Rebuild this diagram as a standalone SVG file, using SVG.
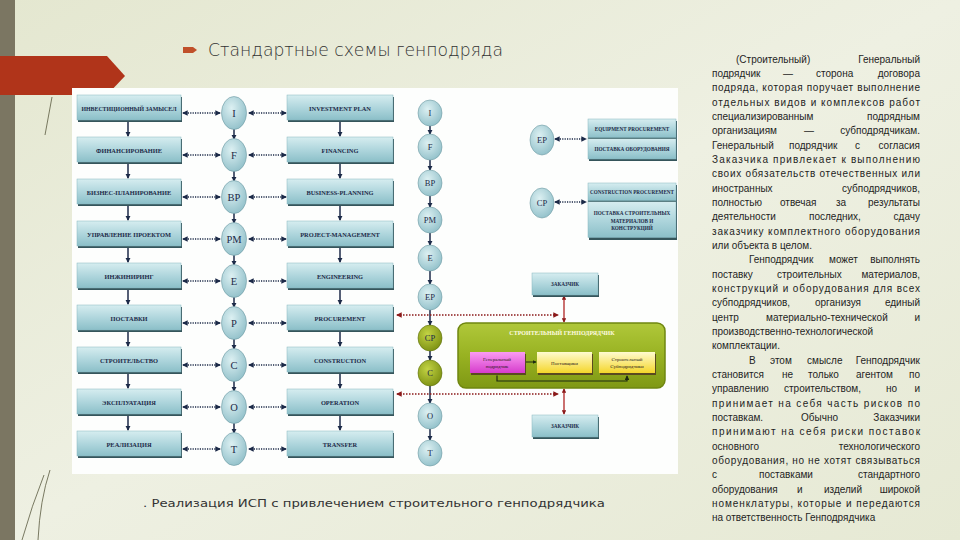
<svg xmlns="http://www.w3.org/2000/svg" width="960" height="540" viewBox="0 0 960 540">
<defs>
<linearGradient id="bg" x1="0" y1="0" x2="1" y2="1"><stop offset="0" stop-color="#e4e7d0"/><stop offset="0.5" stop-color="#eef0e2"/><stop offset="1" stop-color="#e6e9d4"/></linearGradient>
<linearGradient id="gBox" x1="0" y1="0" x2="0" y2="1"><stop offset="0" stop-color="#d6edf0"/><stop offset="0.55" stop-color="#acd4db"/><stop offset="1" stop-color="#8bbfc8"/></linearGradient>
<radialGradient id="gCirc" cx="0.4" cy="0.35" r="0.75"><stop offset="0" stop-color="#dcf0f2"/><stop offset="1" stop-color="#8bbcc6"/></radialGradient>
<radialGradient id="gCircG" cx="0.4" cy="0.35" r="0.75"><stop offset="0" stop-color="#c3d444"/><stop offset="1" stop-color="#768a0e"/></radialGradient>
<linearGradient id="gGreen" x1="0" y1="0" x2="0" y2="1"><stop offset="0" stop-color="#b0c83a"/><stop offset="0.5" stop-color="#98b222"/><stop offset="1" stop-color="#7f9814"/></linearGradient>
<linearGradient id="gMag" x1="0" y1="0" x2="0" y2="1"><stop offset="0" stop-color="#fa9cf2"/><stop offset="1" stop-color="#d63ccc"/></linearGradient>
<linearGradient id="gYel" x1="0" y1="0" x2="0" y2="1"><stop offset="0" stop-color="#fffbd0"/><stop offset="1" stop-color="#f4d62a"/></linearGradient>
<marker id="ah" viewBox="0 0 6 6" refX="5" refY="3" markerWidth="3.5" markerHeight="3.5" orient="auto-start-reverse"><path d="M0,0 L6,3 L0,6 z" fill="#1c2a48"/></marker>
<marker id="ahr" viewBox="0 0 6 6" refX="5" refY="3" markerWidth="3.5" markerHeight="3.5" orient="auto-start-reverse"><path d="M0,0 L6,3 L0,6 z" fill="#8b1a1a"/></marker>
<marker id="ahg" viewBox="0 0 6 6" refX="5" refY="3" markerWidth="4" markerHeight="4" orient="auto-start-reverse"><path d="M0,0 L6,3 L0,6 z" fill="#1d2a10"/></marker>
</defs>
<style>
.sh{fill:#35555b}
.box{fill:url(#gBox);stroke:#86b6bf;stroke-width:0.5}
.circ{fill:url(#gCirc);stroke:#6f9aa3;stroke-width:0.6}
.circg{fill:url(#gCircG);stroke:#5d6e0a;stroke-width:0.6}
.bt{font-family:"Liberation Serif",serif;font-weight:bold;font-size:6.4px;fill:#1c2a48;text-anchor:middle}
.bs{font-family:"Liberation Serif",serif;font-weight:bold;font-size:5.2px;fill:#1c2a48;text-anchor:middle}
.ct{font-family:"Liberation Serif",serif;font-size:10.5px;fill:#1c2a48;text-anchor:middle}
.ct3{font-family:"Liberation Serif",serif;font-size:8.5px;fill:#1c2a48;text-anchor:middle}
.ar{stroke:#1c2a48;stroke-width:1.5;fill:none;marker-end:url(#ah)}
.dt{stroke:#1c2a48;stroke-width:1.6;fill:none;stroke-dasharray:1.2 1.2;marker-start:url(#ah);marker-end:url(#ah)}
.rd{stroke:#8b1a1a;stroke-width:1.6;fill:none;stroke-dasharray:1.5 1.5;marker-start:url(#ahr);marker-end:url(#ahr)}
.rv{stroke:#b02424;stroke-width:1.3;fill:none;marker-start:url(#ahr);marker-end:url(#ahr)}
.p{font-family:"Liberation Sans","Noto Sans",sans-serif;font-size:10px;fill:#1e1e1e}
.pe{font-family:"Liberation Sans","Noto Sans",sans-serif;font-size:10px;fill:#1e1e1e;text-anchor:end}
.gt{font-family:"Liberation Serif",serif;font-size:5px;fill:#2a1a20;text-anchor:middle}
</style>
<rect x="0" y="0" width="960" height="540" fill="url(#bg)"/>
<rect x="0" y="0" width="15" height="540" fill="#7b7662"/>
<polygon points="0,56 107,56 125,76 107,95 0,95" fill="#b0341a"/>
<path d="M52,97 L45,135" stroke="#5a5a40" stroke-width="0.8" fill="none"/>
<path d="M44,475 Q32,505 22,540 M50,470 Q40,500 38,540" stroke="#5a5a40" stroke-width="0.8" fill="none"/>
<polygon points="183,47 193,47 197,50 193,53 183,53" fill="#c0502a"/>
<text x="208" y="56" font-family="DejaVu Sans,sans-serif" font-weight="200" font-size="17" fill="#333" textLength="295" lengthAdjust="spacingAndGlyphs">Стандартные схемы генподряда</text>
<rect x="72" y="88" width="606" height="386" fill="#fdfefd"/>

<g id="connectors">
<path class="ar" d="M128,121 V136"/><path class="ar" d="M128,163 V178"/><path class="ar" d="M128,205 V220"/><path class="ar" d="M128,247 V262"/><path class="ar" d="M128,289 V304"/><path class="ar" d="M128,331 V346"/><path class="ar" d="M128,373 V388"/><path class="ar" d="M128,415 V430"/>
<path class="ar" d="M340,121 V136"/><path class="ar" d="M340,163 V178"/><path class="ar" d="M340,205 V220"/><path class="ar" d="M340,247 V262"/><path class="ar" d="M340,289 V304"/><path class="ar" d="M340,331 V346"/><path class="ar" d="M340,373 V388"/><path class="ar" d="M340,415 V430"/>
<path class="ar" d="M234,129 V139"/><path class="ar" d="M234,171 V181"/><path class="ar" d="M234,213 V223"/><path class="ar" d="M234,255 V265"/><path class="ar" d="M234,297 V307"/><path class="ar" d="M234,339 V349"/><path class="ar" d="M234,381 V391"/><path class="ar" d="M234,423 V433"/>
<path class="ar" d="M430,126 V134"/><path class="ar" d="M430,160 V170"/><path class="ar" d="M430,196 V207"/><path class="ar" d="M430,233 V245"/><path class="ar" d="M430,271 V284"/><path class="ar" d="M430,310 V325"/><path class="ar" d="M430,351 V360"/><path class="ar" d="M430,386 V403"/><path class="ar" d="M430,429 V440"/>
<path class="dt" d="M183,113 H220"/><path class="dt" d="M183,155 H220"/><path class="dt" d="M183,197 H220"/><path class="dt" d="M183,239 H220"/><path class="dt" d="M183,281 H220"/><path class="dt" d="M183,323 H220"/><path class="dt" d="M183,365 H220"/><path class="dt" d="M183,407 H220"/><path class="dt" d="M183,449 H220"/>
<path class="dt" d="M249,113 H286"/><path class="dt" d="M249,155 H286"/><path class="dt" d="M249,197 H286"/><path class="dt" d="M249,239 H286"/><path class="dt" d="M249,281 H286"/><path class="dt" d="M249,323 H286"/><path class="dt" d="M249,365 H286"/><path class="dt" d="M249,407 H286"/><path class="dt" d="M249,449 H286"/>
<path class="dt" d="M555,139 H586"/><path class="dt" d="M555,202 H586"/>
<path class="rd" d="M397,315 H558"/><path class="rd" d="M397,394 H558"/>
<path class="rv" d="M564,296 V322"/><path class="rv" d="M564,389 V414"/>
</g>

<g id="n-l1"><rect class="sh" x="78" y="97" width="104" height="25"/><rect class="box" x="77" y="95" width="104" height="25"/><text class="bt" x="129" y="111" textLength="95" lengthAdjust="spacingAndGlyphs">ИНВЕСТИЦИОННЫЙ ЗАМЫСЕЛ</text></g>
<g id="n-l2"><rect class="sh" x="78" y="139" width="104" height="25"/><rect class="box" x="77" y="137" width="104" height="25"/><text class="bt" x="129" y="153">ФИНАНСИРОВАНИЕ</text></g>
<g id="n-l3"><rect class="sh" x="78" y="181" width="104" height="25"/><rect class="box" x="77" y="179" width="104" height="25"/><text class="bt" x="129" y="195">БИЗНЕС-ПЛАНИРОВАНИЕ</text></g>
<g id="n-l4"><rect class="sh" x="78" y="223" width="104" height="25"/><rect class="box" x="77" y="221" width="104" height="25"/><text class="bt" x="129" y="237">УПРАВЛЕНИЕ ПРОЕКТОМ</text></g>
<g id="n-l5"><rect class="sh" x="78" y="265" width="104" height="25"/><rect class="box" x="77" y="263" width="104" height="25"/><text class="bt" x="129" y="279">ИНЖИНИРИНГ</text></g>
<g id="n-l6"><rect class="sh" x="78" y="307" width="104" height="25"/><rect class="box" x="77" y="305" width="104" height="25"/><text class="bt" x="129" y="321">ПОСТАВКИ</text></g>
<g id="n-l7"><rect class="sh" x="78" y="349" width="104" height="25"/><rect class="box" x="77" y="347" width="104" height="25"/><text class="bt" x="129" y="363">СТРОИТЕЛЬСТВО</text></g>
<g id="n-l8"><rect class="sh" x="78" y="391" width="104" height="25"/><rect class="box" x="77" y="389" width="104" height="25"/><text class="bt" x="129" y="405">ЭКСПЛУАТАЦИЯ</text></g>
<g id="n-l9"><rect class="sh" x="78" y="433" width="104" height="25"/><rect class="box" x="77" y="431" width="104" height="25"/><text class="bt" x="129" y="447">РЕАЛИЗАЦИЯ</text></g>

<g id="n-c1"><ellipse class="circ" cx="234" cy="113" rx="12.5" ry="16.5"/><text class="ct" x="234" y="117">I</text></g>
<g id="n-c2"><ellipse class="circ" cx="234" cy="155" rx="12.5" ry="16.5"/><text class="ct" x="234" y="159">F</text></g>
<g id="n-c3"><ellipse class="circ" cx="234" cy="197" rx="12.5" ry="16.5"/><text class="ct" x="234" y="201">BP</text></g>
<g id="n-c4"><ellipse class="circ" cx="234" cy="239" rx="12.5" ry="16.5"/><text class="ct" x="234" y="243">PM</text></g>
<g id="n-c5"><ellipse class="circ" cx="234" cy="281" rx="12.5" ry="16.5"/><text class="ct" x="234" y="285">E</text></g>
<g id="n-c6"><ellipse class="circ" cx="234" cy="323" rx="12.5" ry="16.5"/><text class="ct" x="234" y="327">P</text></g>
<g id="n-c7"><ellipse class="circ" cx="234" cy="365" rx="12.5" ry="16.5"/><text class="ct" x="234" y="369">C</text></g>
<g id="n-c8"><ellipse class="circ" cx="234" cy="407" rx="12.5" ry="16.5"/><text class="ct" x="234" y="411">O</text></g>
<g id="n-c9"><ellipse class="circ" cx="234" cy="449" rx="12.5" ry="16.5"/><text class="ct" x="234" y="453">T</text></g>

<g id="n-r1"><rect class="sh" x="288" y="97" width="106" height="25"/><rect class="box" x="287" y="95" width="106" height="25"/><text class="bt" x="340" y="111">INVESTMENT PLAN</text></g>
<g id="n-r2"><rect class="sh" x="288" y="139" width="106" height="25"/><rect class="box" x="287" y="137" width="106" height="25"/><text class="bt" x="340" y="153">FINANCING</text></g>
<g id="n-r3"><rect class="sh" x="288" y="181" width="106" height="25"/><rect class="box" x="287" y="179" width="106" height="25"/><text class="bt" x="340" y="195">BUSINESS-PLANNING</text></g>
<g id="n-r4"><rect class="sh" x="288" y="223" width="106" height="25"/><rect class="box" x="287" y="221" width="106" height="25"/><text class="bt" x="340" y="237">PROJECT-MANAGEMENT</text></g>
<g id="n-r5"><rect class="sh" x="288" y="265" width="106" height="25"/><rect class="box" x="287" y="263" width="106" height="25"/><text class="bt" x="340" y="279">ENGINEERING</text></g>
<g id="n-r6"><rect class="sh" x="288" y="307" width="106" height="25"/><rect class="box" x="287" y="305" width="106" height="25"/><text class="bt" x="340" y="321">PROCUREMENT</text></g>
<g id="n-r7"><rect class="sh" x="288" y="349" width="106" height="25"/><rect class="box" x="287" y="347" width="106" height="25"/><text class="bt" x="340" y="363">CONSTRUCTION</text></g>
<g id="n-r8"><rect class="sh" x="288" y="391" width="106" height="25"/><rect class="box" x="287" y="389" width="106" height="25"/><text class="bt" x="340" y="405">OPERATION</text></g>
<g id="n-r9"><rect class="sh" x="288" y="433" width="106" height="25"/><rect class="box" x="287" y="431" width="106" height="25"/><text class="bt" x="340" y="447">TRANSFER</text></g>

<g id="n-s1"><ellipse class="circ" cx="430" cy="113" rx="12" ry="13"/><text class="ct3" x="430" y="116">I</text></g>
<g id="n-s2"><ellipse class="circ" cx="430" cy="147" rx="12" ry="13"/><text class="ct3" x="430" y="150">F</text></g>
<g id="n-s3"><ellipse class="circ" cx="430" cy="183" rx="12" ry="13"/><text class="ct3" x="430" y="186">BP</text></g>
<g id="n-s4"><ellipse class="circ" cx="430" cy="220" rx="12" ry="13"/><text class="ct3" x="430" y="223">PM</text></g>
<g id="n-s5"><ellipse class="circ" cx="430" cy="258" rx="12" ry="13"/><text class="ct3" x="430" y="261">E</text></g>
<g id="n-s6"><ellipse class="circ" cx="430" cy="297" rx="12" ry="13"/><text class="ct3" x="430" y="300">EP</text></g>
<g id="n-s7"><ellipse class="circg" cx="430" cy="338" rx="12" ry="13"/><text class="ct3" x="430" y="341">CP</text></g>
<g id="n-s8"><ellipse class="circg" cx="430" cy="373" rx="12" ry="13"/><text class="ct3" x="430" y="376">C</text></g>
<g id="n-s9"><ellipse class="circ" cx="430" cy="416" rx="12" ry="13"/><text class="ct3" x="430" y="419">O</text></g>
<g id="n-s10"><ellipse class="circ" cx="430" cy="453" rx="12" ry="13"/><text class="ct3" x="430" y="456">T</text></g>

<g id="n-ep"><ellipse class="circ" cx="542" cy="140" rx="12" ry="15"/><text class="ct3" x="542" y="143">EP</text></g>
<g id="n-cp"><ellipse class="circ" cx="542" cy="203" rx="12" ry="15"/><text class="ct3" x="542" y="206">CP</text></g>
<g id="n-epbox"><rect class="sh" x="589" y="121" width="88" height="40"/><rect class="box" x="588" y="119" width="88" height="19"/><rect class="box" x="588" y="138.5" width="88" height="20.5"/><line x1="588" y1="138.2" x2="676" y2="138.2" stroke="#35555b" stroke-width="0.8"/><text class="bs" x="632" y="131">EQUIPMENT PROCUREMENT</text><text class="bs" x="632" y="151">ПОСТАВКА ОБОРУДОВАНИЯ</text></g>
<g id="n-cpbox"><rect class="sh" x="589" y="185" width="88" height="55"/><rect class="box" x="588" y="183" width="88" height="18"/><rect class="box" x="588" y="201.5" width="88" height="36"/><line x1="588" y1="201.2" x2="676" y2="201.2" stroke="#35555b" stroke-width="0.8"/><text class="bs" x="632" y="194" textLength="84" lengthAdjust="spacingAndGlyphs">CONSTRUCTION PROCUREMENT</text><text class="bs" x="632" y="215">ПОСТАВКА СТРОИТЕЛЬНЫХ</text><text class="bs" x="632" y="222.5">МАТЕРИАЛОВ И</text><text class="bs" x="632" y="230">КОНСТРУКЦИЙ</text></g>

<g id="n-zak1"><rect class="sh" x="533" y="275" width="66" height="22"/><rect class="box" x="532" y="273" width="66" height="22"/><text class="bs" x="565" y="286">ЗАКАЗЧИК</text></g>
<g id="n-zak2"><rect class="sh" x="533" y="417" width="66" height="22"/><rect class="box" x="532" y="415" width="66" height="22"/><text class="bs" x="565" y="428">ЗАКАЗЧИК</text></g>

<g id="n-gen">
<rect x="458" y="323" width="207" height="65" rx="8" fill="url(#gGreen)" stroke="#6f8610" stroke-width="1.5"/>
<text x="562" y="335" font-family="Liberation Serif,serif" font-weight="bold" font-size="6px" fill="#fffbe0" text-anchor="middle">СТРОИТЕЛЬНЫЙ ГЕНПОДРЯДЧИК</text>
</g>
<g id="n-gp"><rect x="471" y="354" width="55" height="21" fill="#5a4a20"/><rect x="470" y="352" width="55" height="21" fill="url(#gMag)"/><text class="gt" x="497" y="360.5">Генеральный</text><text class="gt" x="497" y="367.5">подрядчик</text></g>
<g id="n-post"><rect x="538" y="354" width="55" height="21" fill="#5a4a20"/><rect x="537" y="352" width="55" height="21" fill="url(#gYel)"/><text class="gt" x="564.5" y="364.5">Поставщики</text></g>
<g id="n-sub"><rect x="600" y="354" width="56" height="21" fill="#5a4a20"/><rect x="599" y="352" width="56" height="21" fill="url(#gYel)"/><text class="gt" x="627" y="360.5">Строительный</text><text class="gt" x="627" y="367.5">Субподрядчики</text></g>
<g id="inner-connectors">
<path d="M526,362 H536" stroke="#1d2a10" stroke-width="1" fill="none" marker-end="url(#ahg)"/>
<path d="M497,375.5 V381 H627 V376" stroke="#1d2a10" stroke-width="1.2" fill="none" marker-end="url(#ahg)"/>
</g>

<text x="143" y="507" font-family="DejaVu Sans,sans-serif" font-size="10.5" fill="#333" textLength="462" lengthAdjust="spacingAndGlyphs">. Реализация ИСП с привлечением строительного генподрядчика</text>

<g id="paragraph">
<text class="p" x="736" y="62.5">(Строительный)</text><text class="pe" x="920" y="62.5">Генеральный</text>
<text class="p" x="712" y="76.8">подрядчик</text><text class="p" x="783" y="76.8">—</text><text class="p" x="816" y="76.8">сторона</text><text class="pe" x="920" y="76.8">договора</text>
<text class="p" x="712" y="91.2" textLength="208" lengthAdjust="spacing">подряда, которая поручает выполнение</text>
<text class="p" x="712" y="105.5" textLength="208" lengthAdjust="spacing">отдельных видов и комплексов работ</text>
<text class="p" x="712" y="119.9">специализированным</text><text class="pe" x="920" y="119.9">подрядным</text>
<text class="p" x="712" y="134.2">организациям</text><text class="p" x="804" y="134.2">—</text><text class="pe" x="920" y="134.2">субподрядчикам.</text>
<text class="p" x="712" y="148.5">Генеральный</text><text class="p" x="789" y="148.5">подрядчик</text><text class="p" x="855" y="148.5">с</text><text class="pe" x="920" y="148.5">согласия</text>
<text class="p" x="712" y="162.9" textLength="208" lengthAdjust="spacing">Заказчика привлекает к выполнению</text>
<text class="p" x="712" y="177.2" textLength="208" lengthAdjust="spacing">своих обязательств отечественных или</text>
<text class="p" x="712" y="191.6">иностранных</text><text class="pe" x="920" y="191.6">субподрядчиков,</text>
<text class="p" x="712" y="205.9">полностью</text><text class="p" x="780" y="205.9">отвечая</text><text class="p" x="836" y="205.9">за</text><text class="pe" x="920" y="205.9">результаты</text>
<text class="p" x="712" y="220.2">деятельности</text><text class="p" x="809" y="220.2">последних,</text><text class="pe" x="920" y="220.2">сдачу</text>
<text class="p" x="712" y="234.6" textLength="208" lengthAdjust="spacing">заказчику комплектного оборудования</text>
<text class="p" x="712" y="248.9">или объекта в целом.</text>
<text class="p" x="749" y="263.3">Генподрядчик</text><text class="p" x="829" y="263.3">может</text><text class="pe" x="920" y="263.3">выполнять</text>
<text class="p" x="712" y="277.6">поставку</text><text class="p" x="777" y="277.6">строительных</text><text class="pe" x="920" y="277.6">материалов,</text>
<text class="p" x="712" y="291.9" textLength="208" lengthAdjust="spacing">конструкций и оборудования для всех</text>
<text class="p" x="712" y="306.3">субподрядчиков,</text><text class="p" x="815" y="306.3">организуя</text><text class="pe" x="920" y="306.3">единый</text>
<text class="p" x="712" y="320.6">центр</text><text class="p" x="766" y="320.6">материально-технической</text><text class="pe" x="920" y="320.6">и</text>
<text class="p" x="712" y="335">производственно-технологической</text>
<text class="p" x="712" y="349.3">комплектации.</text>
<text class="p" x="749" y="363.6">В</text><text class="p" x="770" y="363.6">этом</text><text class="p" x="807" y="363.6">смысле</text><text class="pe" x="920" y="363.6">Генподрядчик</text>
<text class="p" x="712" y="378">становится</text><text class="p" x="782" y="378">не</text><text class="p" x="808" y="378">только</text><text class="p" x="856" y="378">агентом</text><text class="pe" x="920" y="378">по</text>
<text class="p" x="712" y="392.3">управлению</text><text class="p" x="784" y="392.3">строительством,</text><text class="p" x="886" y="392.3">но</text><text class="pe" x="920" y="392.3">и</text>
<text class="p" x="712" y="406.7" textLength="208" lengthAdjust="spacing">принимает на себя часть рисков по</text>
<text class="p" x="712" y="421">поставкам.</text><text class="p" x="801" y="421">Обычно</text><text class="pe" x="920" y="421">Заказчики</text>
<text class="p" x="712" y="435.3" textLength="208" lengthAdjust="spacing">принимают на себя риски поставок</text>
<text class="p" x="712" y="449.7">основного</text><text class="pe" x="920" y="449.7">технологического</text>
<text class="p" x="712" y="464" textLength="208" lengthAdjust="spacing">оборудования, но не хотят связываться</text>
<text class="p" x="712" y="478.4">с</text><text class="p" x="759" y="478.4">поставками</text><text class="pe" x="920" y="478.4">стандартного</text>
<text class="p" x="712" y="492.7">оборудования</text><text class="p" x="797" y="492.7">и</text><text class="p" x="824" y="492.7">изделий</text><text class="pe" x="920" y="492.7">широкой</text>
<text class="p" x="712" y="507" textLength="208" lengthAdjust="spacing">номенклатуры, которые и передаются</text>
<text class="p" x="712" y="521.4">на ответственность Генподрядчика</text>
</g>
</svg>
